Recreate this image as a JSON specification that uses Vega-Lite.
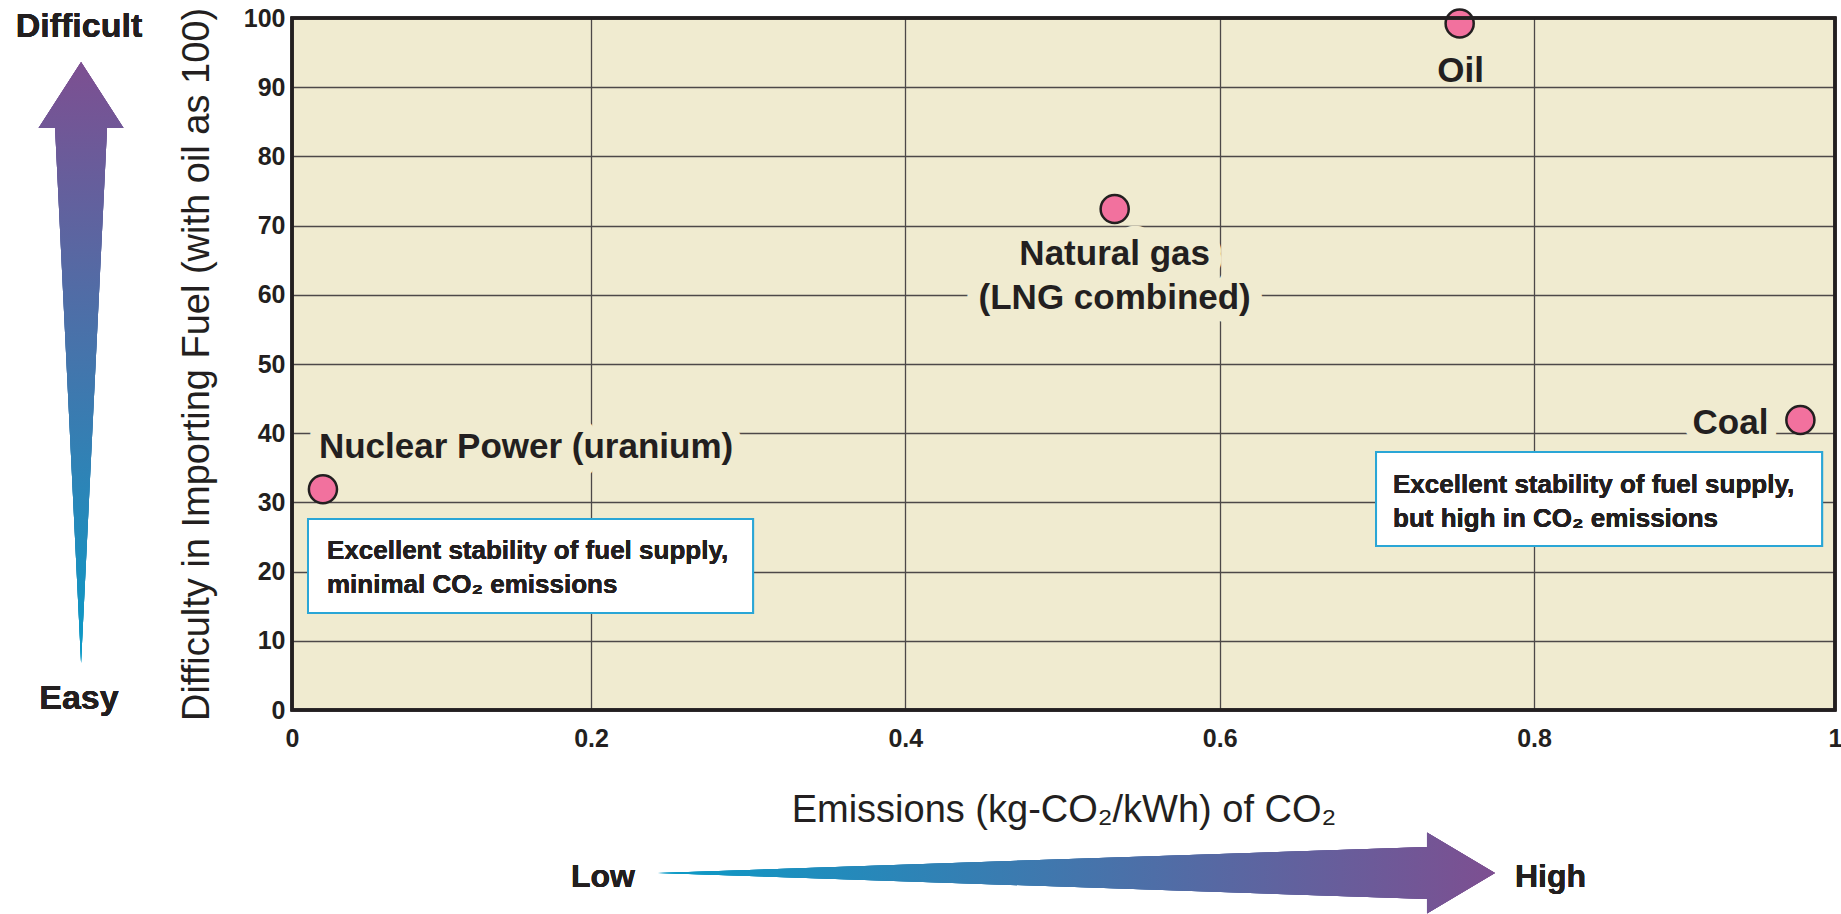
{
  "$schema": "https://vega.github.io/schema/vega-lite/v6.json",
  "autosize": {"type": "none"},
  "width": 1543,
  "height": 692,
  "padding": {"left": 292, "top": 18, "right": 6, "bottom": 204},
  "background": "white",
  "config": {
    "view": {"fill": "#f0ebd0", "stroke": null},
    "font": "Liberation Sans",
    "axis": {
      "domain": false, "ticks": false, "grid": true,
      "gridColor": "#4d4848", "gridWidth": 1.3, "gridOpacity": 1,
      "labelFont": "Liberation Sans", "labelFontWeight": "bold", "labelFontSize": 25, "labelColor": "#231f20",
      "titleFont": "Liberation Sans", "titleFontWeight": "normal", "titleColor": "#231f20", "titleFontSize": 38,
      "labelOverlap": false, "labelFlush": false
    },
    "axisX": {"labelPadding": 16, "titlePadding": 40, "titleFontSize": 38},
    "axisY": {"labelPadding": 7, "titlePadding": 27}
  },
  "datasets": {
    "fuels": [
      {"fuel": "Nuclear", "label": "Nuclear Power (uranium)", "emissions": 0.0207, "difficulty": 31.9},
      {"fuel": "Natural gas", "label": "Natural gas\n(LNG combined)", "emissions": 0.5332, "difficulty": 72.4},
      {"fuel": "Oil", "label": "Oil", "emissions": 0.7527, "difficulty": 99.2},
      {"fuel": "Coal", "label": "Coal", "emissions": 0.977, "difficulty": 41.9}
    ]
  },
  "data": {"name": "fuels"},
  "layer": [
    {
      "mark": {"type": "rect", "fill": "white", "stroke": "#2aa6d6", "strokeWidth": 2},
      "encoding": {
        "x": {"datum": 0.0107, "type": "quantitative", "scale": {"domain": [0, 0.2, 0.8, 1], "range": [0, 299, 1242, 1543], "nice": false, "zero": false}},
        "x2": {"datum": 0.3031},
        "y": {"datum": 27.6, "type": "quantitative", "scale": {"domain": [0, 100], "nice": false}},
        "y2": {"datum": 14.02}
      }
    },
    {
      "mark": {"type": "rect", "fill": "white", "stroke": "#2aa6d6", "strokeWidth": 2},
      "encoding": {
        "x": {"datum": 0.6995, "type": "quantitative", "scale": {"domain": [0, 0.2, 0.8, 1], "range": [0, 299, 1242, 1543], "nice": false, "zero": false}},
        "x2": {"datum": 0.9914},
        "y": {"datum": 37.28, "type": "quantitative", "scale": {"domain": [0, 100], "nice": false}},
        "y2": {"datum": 23.7}
      }
    },
    {
      "mark": {"type": "text", "text": "Excellent stability of fuel supply,\nminimal CO₂ emissions", "lineBreak": "\n", "align": "left", "baseline": "alphabetic", "lineHeight": 34, "fontSize": 26, "fontWeight": "bold", "color": "#231f20"},
      "encoding": {
        "x": {"datum": 0.0234, "type": "quantitative", "scale": {"domain": [0, 0.2, 0.8, 1], "range": [0, 299, 1242, 1543], "nice": false, "zero": false}},
        "y": {"datum": 21.82, "type": "quantitative", "scale": {"domain": [0, 100], "nice": false}}
      }
    },
    {
      "mark": {"type": "text", "text": "Excellent stability of fuel supply,\nbut high in CO₂ emissions", "lineBreak": "\n", "align": "left", "baseline": "alphabetic", "lineHeight": 34, "fontSize": 26, "fontWeight": "bold", "color": "#231f20"},
      "encoding": {
        "x": {"datum": 0.7103, "type": "quantitative", "scale": {"domain": [0, 0.2, 0.8, 1], "range": [0, 299, 1242, 1543], "nice": false, "zero": false}},
        "y": {"datum": 31.36, "type": "quantitative", "scale": {"domain": [0, 100], "nice": false}}
      }
    },
    {
      "transform": [{"filter": "datum.fuel === 'Nuclear'"}],
      "mark": {"type": "text", "align": "left", "baseline": "alphabetic", "dx": -4, "dy": -31, "fontSize": 35, "fontWeight": "bold", "stroke": "#f0ebd0", "strokeWidth": 22, "strokeJoin": "round", "fill": "#f0ebd0"},
      "encoding": {"x": {"field": "emissions", "type": "quantitative"}, "y": {"field": "difficulty", "type": "quantitative"}, "text": {"field": "label"}}
    },
    {
      "transform": [{"filter": "datum.fuel === 'Natural gas'"}],
      "mark": {"type": "text", "align": "center", "baseline": "alphabetic", "dy": 56, "lineBreak": "\n", "lineHeight": 44, "fontSize": 35, "fontWeight": "bold", "stroke": "#f0ebd0", "strokeWidth": 26, "strokeJoin": "round", "fill": "#f0ebd0"},
      "encoding": {"x": {"field": "emissions", "type": "quantitative"}, "y": {"field": "difficulty", "type": "quantitative"}, "text": {"field": "label"}}
    },
    {
      "transform": [{"filter": "datum.fuel === 'Oil'"}],
      "mark": {"type": "text", "align": "center", "baseline": "alphabetic", "dx": 1, "dy": 58, "fontSize": 35, "fontWeight": "bold", "stroke": "#f0ebd0", "strokeWidth": 7, "strokeJoin": "round", "fill": "#f0ebd0"},
      "encoding": {"x": {"field": "emissions", "type": "quantitative"}, "y": {"field": "difficulty", "type": "quantitative"}, "text": {"field": "label"}}
    },
    {
      "transform": [{"filter": "datum.fuel === 'Coal'"}],
      "mark": {"type": "text", "align": "right", "baseline": "alphabetic", "dx": -32, "dy": 14, "fontSize": 35, "fontWeight": "bold", "stroke": "#f0ebd0", "strokeWidth": 20, "strokeJoin": "round", "fill": "#f0ebd0"},
      "encoding": {"x": {"field": "emissions", "type": "quantitative"}, "y": {"field": "difficulty", "type": "quantitative"}, "text": {"field": "label"}}
    },
    {
      "mark": {"type": "point", "filled": true, "fill": "#f2719e", "stroke": "#231f20", "strokeWidth": 2.5, "size": 790, "opacity": 1},
      "encoding": {
        "x": {"field": "emissions", "type": "quantitative", "scale": {"domain": [0, 0.2, 0.8, 1], "range": [0, 299, 1242, 1543], "nice": false, "zero": false},
          "axis": {"values": [0, 0.2, 0.4, 0.6, 0.8, 1], "format": "~g", "title": "Emissions (kg-CO₂/kWh) of CO₂"}},
        "y": {"field": "difficulty", "type": "quantitative", "scale": {"domain": [0, 100], "nice": false},
          "axis": {"values": [0, 10, 20, 30, 40, 50, 60, 70, 80, 90, 100], "title": "Difficulty in Importing Fuel (with oil as 100)"}}
      }
    },
    {
      "transform": [{"filter": "datum.fuel === 'Nuclear'"}],
      "mark": {"type": "text", "align": "left", "baseline": "alphabetic", "dx": -4, "dy": -31, "fontSize": 35, "fontWeight": "bold", "color": "#231f20"},
      "encoding": {"x": {"field": "emissions", "type": "quantitative"}, "y": {"field": "difficulty", "type": "quantitative"}, "text": {"field": "label"}}
    },
    {
      "transform": [{"filter": "datum.fuel === 'Natural gas'"}],
      "mark": {"type": "text", "align": "center", "baseline": "alphabetic", "dy": 56, "lineBreak": "\n", "lineHeight": 44, "fontSize": 35, "fontWeight": "bold", "color": "#231f20"},
      "encoding": {"x": {"field": "emissions", "type": "quantitative"}, "y": {"field": "difficulty", "type": "quantitative"}, "text": {"field": "label"}}
    },
    {
      "transform": [{"filter": "datum.fuel === 'Oil'"}],
      "mark": {"type": "text", "align": "center", "baseline": "alphabetic", "dx": 1, "dy": 58, "fontSize": 35, "fontWeight": "bold", "color": "#231f20"},
      "encoding": {"x": {"field": "emissions", "type": "quantitative"}, "y": {"field": "difficulty", "type": "quantitative"}, "text": {"field": "label"}}
    },
    {
      "transform": [{"filter": "datum.fuel === 'Coal'"}],
      "mark": {"type": "text", "align": "right", "baseline": "alphabetic", "dx": -32, "dy": 14, "fontSize": 35, "fontWeight": "bold", "color": "#231f20"},
      "encoding": {"x": {"field": "emissions", "type": "quantitative"}, "y": {"field": "difficulty", "type": "quantitative"}, "text": {"field": "label"}}
    },
    {
      "mark": {"type": "rect", "filled": false, "fill": null, "stroke": "#231f20", "strokeWidth": 3},
      "encoding": {
        "x": {"datum": 0, "type": "quantitative", "scale": {"domain": [0, 0.2, 0.8, 1], "range": [0, 299, 1242, 1543], "nice": false, "zero": false}},
        "x2": {"datum": 1},
        "y": {"datum": 0, "type": "quantitative", "scale": {"domain": [0, 100], "nice": false}},
        "y2": {"datum": 100}
      }
    },
    {
      "mark": {"type": "point", "shape": "M0,-1L0.1414,-0.78L0.0865,-0.78L0,1L-0.0865,-0.78L-0.1414,-0.78Z", "size": 361201, "filled": true, "strokeWidth": 0, "opacity": 1,
        "fill": {"gradient": "linear", "x1": 0, "y1": 0, "x2": 0, "y2": 1, "stops": [{"offset": 0, "color": "#7d4f91"}, {"offset": 1, "color": "#0a9bc7"}]}},
      "encoding": {
        "x": {"datum": -0.1411, "type": "quantitative", "scale": {"domain": [0, 0.2, 0.8, 1], "range": [0, 299, 1242, 1543], "nice": false, "zero": false}},
        "y": {"datum": 50.22, "type": "quantitative", "scale": {"domain": [0, 100], "nice": false}}
      }
    },
    {
      "mark": {"type": "point", "shape": "M1,0L0.8375,0.0968L0.8375,0.0621L-1,0L0.8375,-0.0621L0.8375,-0.0968Z", "size": 700569, "filled": true, "strokeWidth": 0, "opacity": 1,
        "fill": {"gradient": "linear", "x1": 0, "y1": 0, "x2": 1, "y2": 0, "stops": [{"offset": 0, "color": "#0a9bc7"}, {"offset": 1, "color": "#7d4f91"}]}},
      "encoding": {
        "x": {"datum": 0.5089, "type": "quantitative", "scale": {"domain": [0, 0.2, 0.8, 1], "range": [0, 299, 1242, 1543], "nice": false, "zero": false}},
        "y": {"datum": -23.55, "type": "quantitative", "scale": {"domain": [0, 100], "nice": false}}
      }
    },
    {
      "mark": {"type": "text", "text": "Difficult", "align": "center", "baseline": "alphabetic", "fontSize": 34, "fontWeight": "bold", "color": "#231f20"},
      "encoding": {
        "x": {"datum": -0.1425, "type": "quantitative", "scale": {"domain": [0, 0.2, 0.8, 1], "range": [0, 299, 1242, 1543], "nice": false, "zero": false}},
        "y": {"datum": 97.3, "type": "quantitative", "scale": {"domain": [0, 100], "nice": false}}
      }
    },
    {
      "mark": {"type": "text", "text": "Easy", "align": "center", "baseline": "alphabetic", "fontSize": 34, "fontWeight": "bold", "color": "#231f20"},
      "encoding": {
        "x": {"datum": -0.1425, "type": "quantitative", "scale": {"domain": [0, 0.2, 0.8, 1], "range": [0, 299, 1242, 1543], "nice": false, "zero": false}},
        "y": {"datum": 0.1, "type": "quantitative", "scale": {"domain": [0, 100], "nice": false}}
      }
    },
    {
      "mark": {"type": "text", "text": "Low", "align": "center", "baseline": "alphabetic", "fontSize": 32, "fontWeight": "bold", "color": "#231f20"},
      "encoding": {
        "x": {"datum": 0.2076, "type": "quantitative", "scale": {"domain": [0, 0.2, 0.8, 1], "range": [0, 299, 1242, 1543], "nice": false, "zero": false}},
        "y": {"datum": -25.58, "type": "quantitative", "scale": {"domain": [0, 100], "nice": false}}
      }
    },
    {
      "mark": {"type": "text", "text": "High", "align": "center", "baseline": "alphabetic", "fontSize": 32, "fontWeight": "bold", "color": "#231f20"},
      "encoding": {
        "x": {"datum": 0.811, "type": "quantitative", "scale": {"domain": [0, 0.2, 0.8, 1], "range": [0, 299, 1242, 1543], "nice": false, "zero": false}},
        "y": {"datum": -25.58, "type": "quantitative", "scale": {"domain": [0, 100], "nice": false}}
      }
    }
  ]
}
